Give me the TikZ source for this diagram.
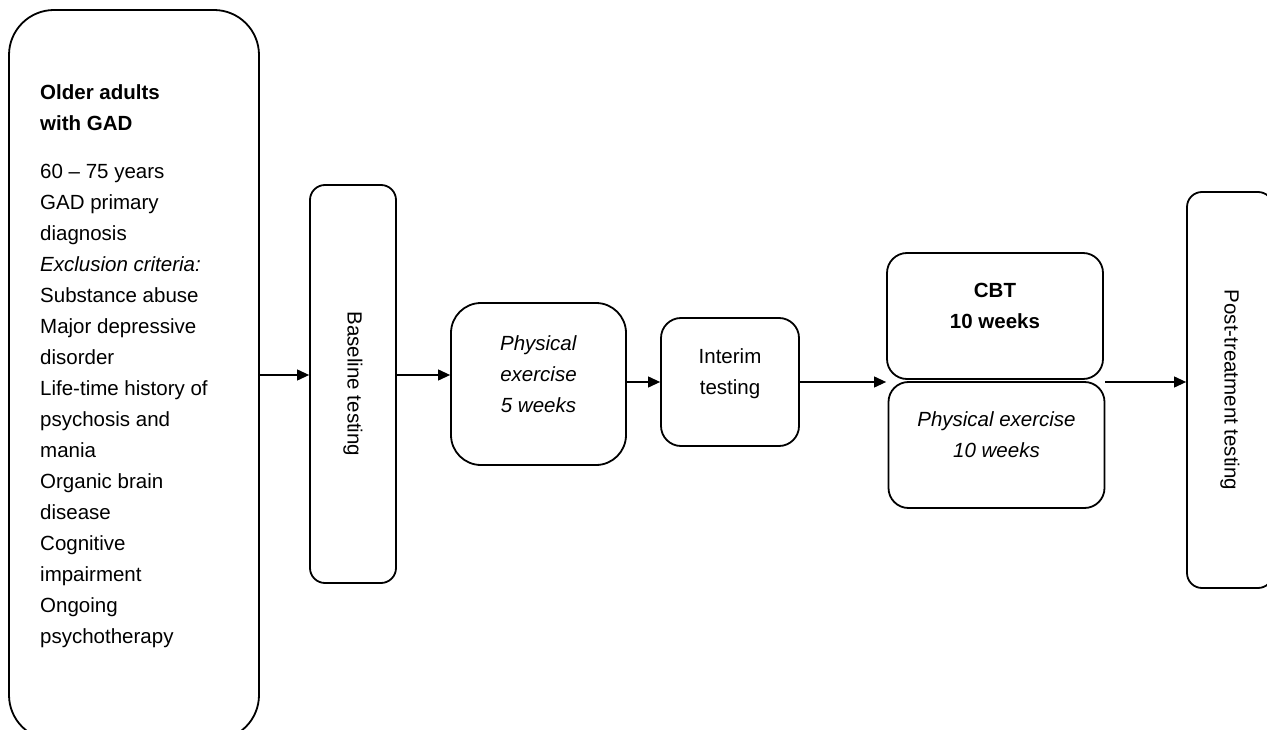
\documentclass[tikz,border=0pt]{standalone}
\usepackage{fontspec}
\setmainfont{Liberation Sans}
\usetikzlibrary{arrows.meta,positioning}
\tikzset{
	rbox/.style={draw, rectangle, line width=1.8pt, inner sep=0pt, align=center, font=\fontsize{20.5}{31}\selectfont},
	sbox/.style={rbox, text depth=20pt},
	vertbox/.style={rbox, rotate=-90, rounded corners=15pt, minimum height=86pt},
	trans/.style={draw, ->, line width=1.1pt},
	>={Triangle[length=12pt,width=11pt]}
}

\begin{document}
\begin{tikzpicture}[x=1pt,y=-1pt]
		\newcommand{\pairwidth}{216pt}
		\newcommand{\pairheight}{126pt}
		\useasboundingbox (0,0) rectangle (1267,730);
		% sample box on the left
		\node [rbox, rounded corners=45pt, minimum width=250pt, minimum height=730pt] (gad) at (134,375) {};
		\node [anchor=north west, align=left, inner sep=0pt, font=\fontsize{20.5}{31}\selectfont] (gadtext) at (40,84.5) {\textbf{Older adults}\\\textbf{with GAD}\\[17pt]60 -- 75 years\\GAD primary\\diagnosis\\\textit{Exclusion criteria:}\\Substance abuse\\Major depressive\\disorder\\Life-time history of\\psychosis and\\mania\\Organic brain\\disease\\Cognitive\\impairment\\Ongoing\\psychotherapy};
		
		\node [vertbox, minimum width=398pt] (base) at (353,384) {Baseline testing};
		\node [sbox, rounded corners=30pt, minimum width=175pt, minimum height=162pt] (phys) at (538.5,384) {\textit{Physical}\\\textit{exercise}\\\textit{5 weeks}};
		\node [sbox, rounded corners=20pt, minimum width=138pt, minimum height=128pt] (inter) at (730,382) {Interim\\testing};
		\node [sbox, rounded corners=20pt, minimum width=\pairwidth, minimum height=\pairheight] (cbt) at (995,316) {\textbf{CBT}\\\textbf{10 weeks}};
		\node [sbox, rounded corners=20pt, minimum width=\pairwidth, minimum height=\pairheight] (pe) at (996.5,445) {\textit{Physical exercise}\\\textit{10 weeks}};
		\node [vertbox, minimum width=396pt] (post) at (1230,390) {Post-treatment testing};
		
		\path [trans] (gad.east) -- (gad.east -| base.south);
		\path [trans] (base.north |- gad.east) -- (phys.west |- gad.east);
		\path [trans] (phys.east |- inter.west) -- (inter.west);
		\path [trans] (inter.east) -- (inter.east -| cbt.west);
		\path [trans] (inter.east -| pe.east) -- (inter.east -| post.south);
		
	\end{tikzpicture}
\end{document}
